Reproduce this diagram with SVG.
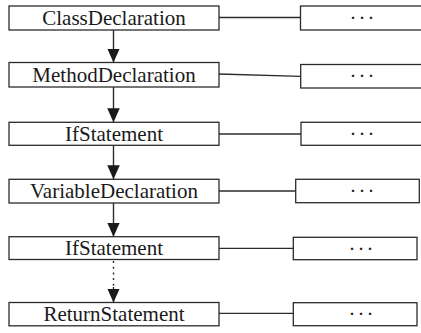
<svg xmlns="http://www.w3.org/2000/svg" width="421" height="333" viewBox="0 0 421 333">
  <style>
    .box { fill: #ffffff; stroke: #2b2b2b; stroke-width: 1.3; }
    .link { fill: none; stroke: #2b2b2b; stroke-width: 1.3; }
    .flow { fill: none; stroke: #2b2b2b; stroke-width: 1.4; }
    .dotted { stroke-dasharray: 2 3.7; }
  </style>
  <defs>
    <marker id="arrow" markerUnits="userSpaceOnUse" markerWidth="14" markerHeight="12.5" viewBox="0 0 14 12.5" refX="14" refY="6.25" orient="auto">
      <path d="M0,0 L14,6.25 L0,12.5 Z" fill="#1a1a1a"/>
    </marker>
  </defs>

  <!-- connectors: parent-to-child flow and links to detail boxes -->
  <g id="connectors">
    <line class="flow" x1="113.5" y1="30" x2="113.5" y2="62.5" marker-end="url(#arrow)"/>
    <line class="flow" x1="113.5" y1="87" x2="113.5" y2="122.3" marker-end="url(#arrow)"/>
    <line class="flow" x1="113.5" y1="145.3" x2="113.5" y2="179.3" marker-end="url(#arrow)"/>
    <line class="flow" x1="113.5" y1="203" x2="113.5" y2="236.7" marker-end="url(#arrow)"/>
    <line class="flow dotted" x1="113.5" y1="261" x2="113.5" y2="287"/>
    <line class="flow" x1="113.5" y1="287" x2="113.5" y2="302.5" marker-end="url(#arrow)"/>

    <line class="link" x1="219" y1="17.5" x2="300.5" y2="17.5"/>
    <line class="link" x1="219" y1="74" x2="300.7" y2="76.3"/>
    <line class="link" x1="219" y1="134" x2="301" y2="134"/>
    <line class="link" x1="219" y1="191" x2="295.7" y2="191"/>
    <line class="link" x1="219" y1="248.3" x2="293.3" y2="248.3"/>
    <line class="link" x1="219" y1="313.3" x2="293.3" y2="313.3"/>
  </g>

  <g font-family="Liberation Serif, Times New Roman, serif" font-size="21" fill="#1a1a1a" text-anchor="middle">
    <g id="node-class-declaration">
      <rect class="box" x="9" y="6" width="210" height="24"/>
      <text x="114" y="25">ClassDeclaration</text>
    </g>
    <g id="detail-class-declaration">
      <rect class="box" x="300.5" y="6" width="130" height="24"/>
      <text x="363" y="25" letter-spacing="2">···</text>
    </g>

    <g id="node-method-declaration">
      <rect class="box" x="9" y="62.5" width="210" height="24.5"/>
      <text x="114" y="82">MethodDeclaration</text>
    </g>
    <g id="detail-method-declaration">
      <rect class="box" x="300.7" y="64.5" width="130" height="23.5"/>
      <text x="363" y="83.3" letter-spacing="2">···</text>
    </g>

    <g id="node-if-statement-1">
      <rect class="box" x="9" y="122.3" width="210" height="23"/>
      <text x="114" y="141">IfStatement</text>
    </g>
    <g id="detail-if-statement-1">
      <rect class="box" x="301" y="122.3" width="130" height="23"/>
      <text x="363" y="141" letter-spacing="2">···</text>
    </g>

    <g id="node-variable-declaration">
      <rect class="box" x="9" y="179.3" width="210" height="23.7"/>
      <text x="114" y="198.3">VariableDeclaration</text>
    </g>
    <g id="detail-variable-declaration">
      <rect class="box" x="295.7" y="179.3" width="123.6" height="23.4"/>
      <text x="363" y="198.3" letter-spacing="2">···</text>
    </g>

    <g id="node-if-statement-2">
      <rect class="box" x="9" y="236.7" width="210" height="22.8"/>
      <text x="114" y="255.3">IfStatement</text>
    </g>
    <g id="detail-if-statement-2">
      <rect class="box" x="293.3" y="237.3" width="123.7" height="22.4"/>
      <text x="362" y="255.5" letter-spacing="2">···</text>
    </g>

    <g id="node-return-statement">
      <rect class="box" x="9" y="302.5" width="210" height="23.3"/>
      <text x="114" y="321.3">ReturnStatement</text>
    </g>
    <g id="detail-return-statement">
      <rect class="box" x="293.3" y="302.7" width="123.7" height="23"/>
      <text x="362" y="321.3" letter-spacing="2">···</text>
    </g>
  </g>
</svg>
